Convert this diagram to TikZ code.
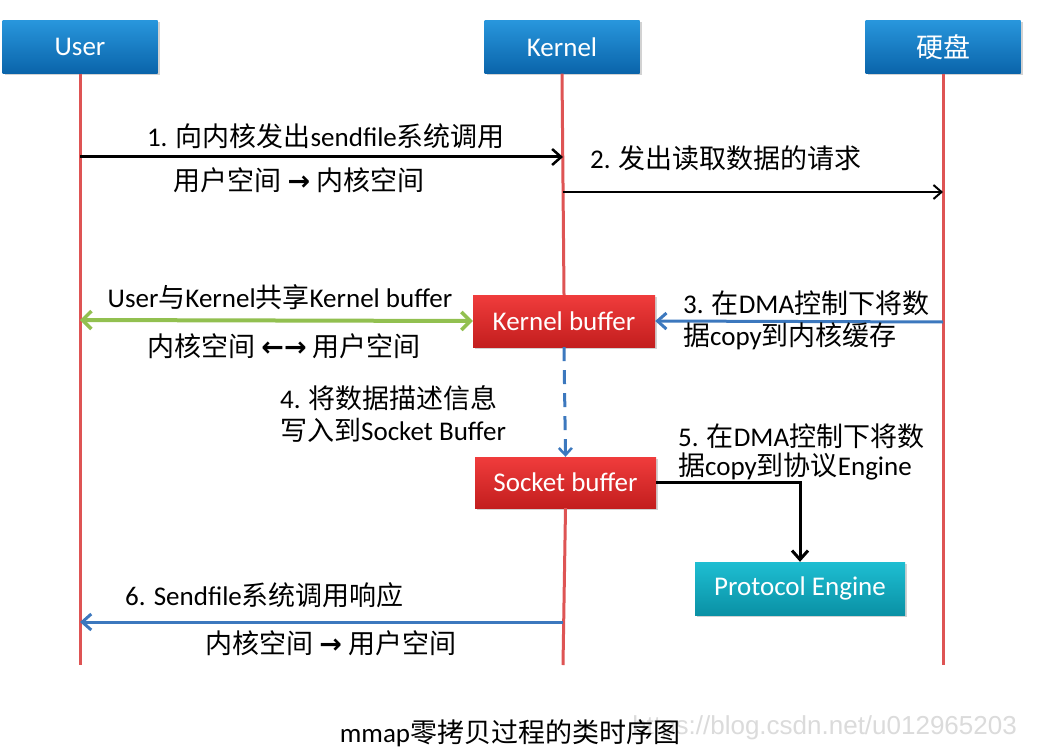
\documentclass[tikz,border=0pt]{standalone}
\usepackage{fontspec}
\setmainfont{Carlito}
\newfontfamily\cjkf{Noto Sans CJK SC}
\newfontfamily\arrf{DejaVu Sans}
\newfontfamily\wmf{Liberation Sans}
\usetikzlibrary{arrows.meta,shadows}
\newcommand\zhs[1]{{\cjkf #1}}
\newcommand\arw[1]{{\arrf\bfseries #1}}
\definecolor{lifered}{RGB}{222,84,84}
\definecolor{hdtop}{RGB}{40,150,220}
\definecolor{hdbot}{RGB}{10,100,170}
\definecolor{bftop}{RGB}{240,60,60}
\definecolor{bfbot}{RGB}{195,30,30}
\definecolor{petop}{RGB}{30,190,210}
\definecolor{pebot}{RGB}{10,145,165}
\definecolor{grn}{RGB}{146,192,80}
\definecolor{blu}{RGB}{60,120,190}
\begin{document}
\begin{tikzpicture}[x=1pt,y=-1pt,
  box/.style={draw=none, minimum width=155pt, minimum height=53pt, inner sep=0pt,
    text=white, font=\fontsize{27}{30}\selectfont,
    drop shadow={opacity=0.35, shadow xshift=2pt, shadow yshift=-2pt}},
  head/.style={box, top color=hdtop, bottom color=hdbot},
  buf/.style={box, top color=bftop, bottom color=bfbot, minimum height=52pt},
  peb/.style={box, top color=petop, bottom color=pebot, minimum width=210pt},
  life/.style={draw=lifered, line width=3pt},
  lbl/.style={inner sep=0pt, font=\fontsize{27}{32}\selectfont},
  lbll/.style={lbl, anchor=west},
  tipk/.style={-{Straight Barb[length=9pt,width=16pt,line width=2.5pt]}},
]
\useasboundingbox (0,0) rectangle (1056,754);
\fill[white] (0,0) rectangle (1056,754);

% header boxes
\node[head] (user) at (80,47) {User};
\node[head] (kernel) at (562,47) {Kernel};
\node[head] (disk) at (943,47) {\zhs{硬盘}};

% lifeline end points
\coordinate (uend) at (80,665);
\coordinate (kend) at (563,665);
\coordinate (dend) at (943,665);

% buffers
\node[buf, minimum width=182pt] (kbuf) at (564,321) {Kernel buffer};
\node[buf, minimum width=181pt, minimum height=51pt] (sbuf) at (565.5,482.5) {Socket buffer};
\node[peb] (pe) at (800,588.5) {Protocol Engine};

% lifelines
\draw[life] (user.south) -- (uend);
\draw[life] (disk.south) -- (dend);
\draw[life] (kernel.south) -- (kbuf.north);
\draw[life] (sbuf.south) -- (kend);

% message points
\coordinate (u1) at (80,157);
\coordinate (k1) at (563,157);
\coordinate (k2) at (563,192);
\coordinate (d2) at (943,192);
\coordinate (u3) at (80,320);
\coordinate (d3) at (943,322);
\coordinate (k6) at (563,622);
\coordinate (u6) at (80,622);

% 1
\draw[line width=3pt, tipk] (u1) -- (k1);
\node[lbl] (l1a) at (326,136) {1. \zhs{向内核发出}sendfile\zhs{系统调用}};
\node[lbl] (l1b) at (299,180) {\zhs{用户空间} \arw{→} \zhs{内核空间}};
% 2
\draw[line width=1.8pt, -{Straight Barb[length=8pt,width=14pt,line width=2pt]}] (k2) -- (d2);
\node[lbll] (l2) at (590,158) {2. \zhs{发出读取数据的请求}};
% green shared
\draw[draw=grn, line width=4pt, {Straight Barb[length=9pt,width=18pt,line width=3.5pt]}-{Straight Barb[length=9pt,width=18pt,line width=3.5pt]}] (u3) -- (kbuf.west);
\node[lbl] (lga) at (280,297) {User\zhs{与}Kernel\zhs{共享}Kernel buffer};
\node[lbl] (lgb) at (284,346) {\zhs{内核空间} \arw{←→} \zhs{用户空间}};
% 3
\draw[draw=blu, line width=3pt, -{Straight Barb[length=9pt,width=16pt,line width=3pt]}] (d3) -- (kbuf.east);
\node[lbll] (l3a) at (683,303) {3. \zhs{在}DMA\zhs{控制下将数}};
\node[lbll] (l3b) at (683,336) {\zhs{据}copy\zhs{到内核缓存}};
% 4
\draw[draw=blu, line width=3pt, dash pattern=on 14pt off 9pt, -{Straight Barb[length=7pt,width=13pt,line width=2.5pt]}] (kbuf.south) -- (sbuf.north);
\node[lbll] (l4a) at (280,398) {4. \zhs{将数据描述信息}};
\node[lbll] (l4b) at (280,430) {\zhs{写入到}Socket Buffer};
% 5
\draw[line width=3pt, -{Straight Barb[length=9pt,width=16pt,line width=3pt]}] (sbuf.east) -| (pe.north);
\node[lbll] (l5a) at (678,436) {5. \zhs{在}DMA\zhs{控制下将数}};
\node[lbll] (l5b) at (678,466) {\zhs{据}copy\zhs{到协议}Engine};
% 6
\draw[draw=blu, line width=3pt, -{Straight Barb[length=9pt,width=16pt,line width=3pt]}] (k6) -- (u6);
\node[lbll] (l6a) at (125,595) {6. Sendfile\zhs{系统调用响应}};
\node[lbll] (l6b) at (205,643) {\zhs{内核空间} \arw{→} \zhs{用户空间}};

% watermark and caption
\node[inner sep=0pt, anchor=east, text=black!14, font=\wmf\fontsize{26}{30}\selectfont] (wm) at (1017,728) {https://blog.csdn.net/u012965203};
\node[lbl] (cap) at (510,733) {mmap\zhs{零拷贝过程的类时序图}};
\end{tikzpicture}
\end{document}
